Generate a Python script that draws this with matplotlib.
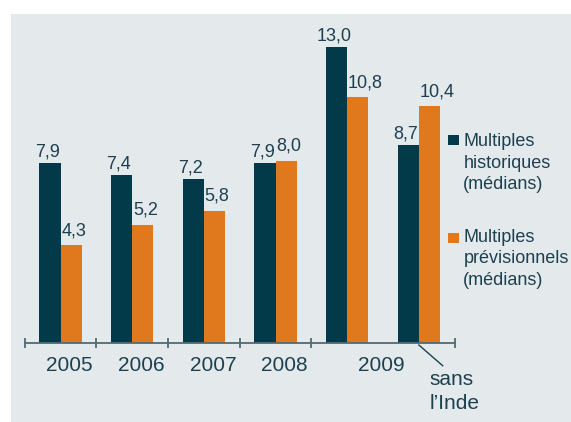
import matplotlib.pyplot as plt
from matplotlib.patches import Rectangle
import numpy as np

plt.rcParams['font.family'] = ['Liberation Sans', 'DejaVu Sans']

years = ['2005', '2006', '2007', '2008', '2009']
year_pos = [0.125, 1.123, 2.127, 3.125, 4.471]
historiques = [7.9, 7.4, 7.2, 7.9, 13.0, 8.7]
previsionnels = [4.3, 5.2, 5.8, 8.0, 10.8, 10.4]
labels_hist = ['7,9', '7,4', '7,2', '7,9', '13,0', '8,7']
labels_prev = ['4,3', '5,2', '5,8', '8,0', '10,8', '10,4']
series_names = ['Multiples\nhistoriques\n(médians)',
                'Multiples\nprévisionnels\n(médians)']

dark = '#033a4a'
orange = '#e0781d'
text_col = '#1d4050'
axis_col = '#526a73'
bg = '#e4e9ec'

W, H = 571, 422
fig = plt.figure(figsize=(W / 100, H / 100), dpi=100)
fig.patch.set_facecolor('white')


def fx(px):
    return px / W


def fy(py):
    return 1 - py / H


# grey panel behind everything
fig.patches.append(Rectangle((fx(11), 0), 1 - fx(11), fy(14),
                             transform=fig.transFigure, facecolor=bg,
                             edgecolor='none', zorder=-10))

# axes box: x from -0.5 to 5.5, y from 0 to 13
ax = fig.add_axes([fx(24.7), fy(343), fx(430), 296 / H])
ax.patch.set_alpha(0)
ax.set_xlim(-0.5, 5.5)
ax.set_ylim(0, 13)

x = np.arange(len(historiques))
w = 0.295
ax.bar(x - w / 2, historiques, w, color=dark)
ax.bar(x + w / 2, previsionnels, w, color=orange)

for xi, v, s in zip(x, historiques, labels_hist):
    ax.text(xi - w / 2 - 0.04, v + 0.285, s, ha='center', va='baseline',
            fontsize=13, color=text_col)
for xi, v, s in zip(x, previsionnels, labels_prev):
    ax.text(xi + 0.012, v + 0.44, s, ha='left', va='baseline',
            fontsize=13, color=text_col)

for sp in ['top', 'right', 'left']:
    ax.spines[sp].set_visible(False)
ax.spines['bottom'].set_color(axis_col)
ax.spines['bottom'].set_linewidth(1.3)
ax.set_yticks([])
ax.set_xticks([-0.5, 0.5, 1.5, 2.5, 3.5, 5.5])
ax.set_xticklabels([])
ax.tick_params(axis='x', direction='inout', length=7, width=1.3, color=axis_col)

for xp, yr in zip(year_pos, years):
    ax.text(xp, -1.22, yr, ha='center', va='baseline', fontsize=15, color=text_col)

# pointer to the group without India
ax.plot([5.0, 5.332], [-0.088, -0.996], color=text_col, lw=1.0, clip_on=False)
ax.text(5.154, -1.84, 'sans', ha='left', va='baseline', fontsize=15, color=text_col)
ax.text(5.154, -2.9, 'l\u2019Inde', ha='left', va='baseline', fontsize=15, color=text_col)

# legend, drawn by hand so each square sits on the first line
for name, col, sq_top, base in zip(series_names, [dark, orange], [135, 233], [146, 241.7]):
    fig.patches.append(Rectangle((fx(448.3), fy(sq_top + 10)), fx(10.7), 10 / H,
                                 transform=fig.transFigure, facecolor=col,
                                 edgecolor='none'))
    for i, line in enumerate(name.split('\n')):
        fig.text(fx(463.3), fy(base + i * 21.5), line, ha='left', va='baseline',
                 fontsize=13, color=text_col)

fig.savefig('out.png', dpi=100)
